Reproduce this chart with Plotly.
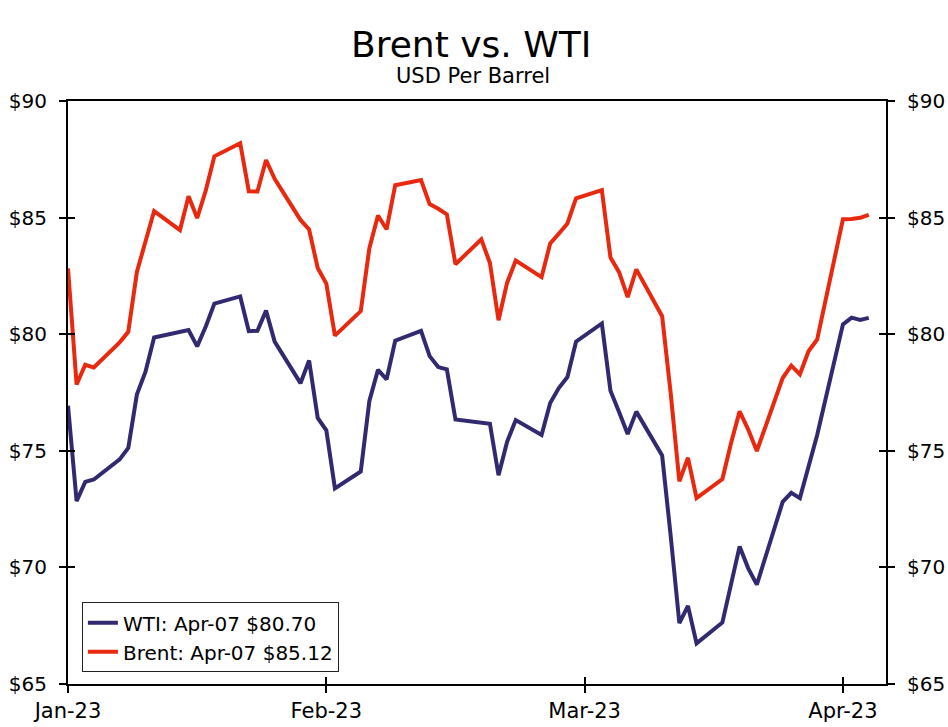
import plotly.graph_objects as go

# ---------------- data ----------------
wti_dates = [
    "2023-01-03", "2023-01-04", "2023-01-05", "2023-01-06", "2023-01-09", "2023-01-10", "2023-01-11",
    "2023-01-12", "2023-01-13", "2023-01-17", "2023-01-18", "2023-01-19", "2023-01-20", "2023-01-23",
    "2023-01-24", "2023-01-25", "2023-01-26", "2023-01-27", "2023-01-30", "2023-01-31",
    "2023-02-01", "2023-02-02", "2023-02-03", "2023-02-06", "2023-02-07", "2023-02-08", "2023-02-09",
    "2023-02-10", "2023-02-13", "2023-02-14", "2023-02-15", "2023-02-16", "2023-02-17", "2023-02-21",
    "2023-02-22", "2023-02-23", "2023-02-24", "2023-02-27", "2023-02-28",
    "2023-03-01", "2023-03-02", "2023-03-03", "2023-03-06", "2023-03-07", "2023-03-08", "2023-03-09",
    "2023-03-10", "2023-03-13", "2023-03-14", "2023-03-15", "2023-03-16", "2023-03-17", "2023-03-20",
    "2023-03-21", "2023-03-22", "2023-03-23", "2023-03-24", "2023-03-27", "2023-03-28", "2023-03-29",
    "2023-03-30", "2023-03-31",
    "2023-04-03", "2023-04-04", "2023-04-05", "2023-04-06",
]
wti_values = [
    76.93, 72.84, 73.67, 73.77, 74.63, 75.12, 77.41, 78.39, 79.86, 80.18, 79.48, 80.33, 81.31, 81.62,
    80.13, 80.15, 81.01, 79.68, 77.90, 78.87,
    76.41, 75.88, 73.39, 74.11, 77.14, 78.47, 78.06, 79.72, 80.14, 79.06, 78.59, 78.49, 76.34, 76.16,
    73.95, 75.39, 76.32, 75.68, 77.05,
    77.69, 78.16, 79.68, 80.46, 77.58, 76.66, 75.72, 76.68, 74.80, 71.33, 67.61, 68.35, 66.74, 67.64,
    69.33, 70.90, 69.96, 69.26, 72.81, 73.20, 72.97, 74.37, 75.67,
    80.42, 80.71, 80.61, 80.70,
]

brent_dates = [
    "2023-01-03", "2023-01-04", "2023-01-05", "2023-01-06", "2023-01-09", "2023-01-10", "2023-01-11",
    "2023-01-12", "2023-01-13", "2023-01-16", "2023-01-17", "2023-01-18", "2023-01-19", "2023-01-20",
    "2023-01-23", "2023-01-24", "2023-01-25", "2023-01-26", "2023-01-27", "2023-01-30", "2023-01-31",
    "2023-02-01", "2023-02-02", "2023-02-03", "2023-02-06", "2023-02-07", "2023-02-08", "2023-02-09",
    "2023-02-10", "2023-02-13", "2023-02-14", "2023-02-15", "2023-02-16", "2023-02-17", "2023-02-20",
    "2023-02-21", "2023-02-22", "2023-02-23", "2023-02-24", "2023-02-27", "2023-02-28",
    "2023-03-01", "2023-03-02", "2023-03-03", "2023-03-06", "2023-03-07", "2023-03-08", "2023-03-09",
    "2023-03-10", "2023-03-13", "2023-03-14", "2023-03-15", "2023-03-16", "2023-03-17", "2023-03-20",
    "2023-03-21", "2023-03-22", "2023-03-23", "2023-03-24", "2023-03-27", "2023-03-28", "2023-03-29",
    "2023-03-30", "2023-03-31",
    "2023-04-03", "2023-04-04", "2023-04-05", "2023-04-06",
]
brent_values = [
    82.82, 77.84, 78.69, 78.57, 79.65, 80.10, 82.67, 84.03, 85.28, 84.46, 85.92, 84.98, 86.16, 87.63,
    88.19, 86.13, 86.12, 87.47, 86.66, 84.90, 84.49,
    82.84, 82.17, 79.94, 80.99, 83.69, 85.09, 84.50, 86.39, 86.61, 85.58, 85.38, 85.14, 83.00, 84.07,
    83.05, 80.60, 82.21, 83.16, 82.45, 83.89,
    84.31, 84.75, 85.83, 86.18, 83.29, 82.66, 81.59, 82.78, 80.77, 77.45, 73.69, 74.70, 72.97, 73.79,
    75.32, 76.69, 75.91, 74.99, 78.12, 78.65, 78.28, 79.27, 79.77,
    84.93, 84.94, 84.99, 85.12,
]

series_names = ["WTI: Apr-07 $80.70", "Brent: Apr-07 $85.12"]
title_text = "Brent vs. WTI"
subtitle_text = "USD Per Barrel"

x_range = ["2023-01-03", "2023-04-08"]
x_tick0 = "2023-01-03"
x_dtick_days = 30
y_range = [65, 90]
y_dtick = 5

# ---------------- style ----------------
FONT = "DejaVu Sans"
WTI_COLOR = "#312a70"
BRENT_COLOR = "#e8290f"
DAY_MS = 86400000

fig = go.Figure()
fig.add_trace(go.Scatter(x=wti_dates, y=wti_values, name=series_names[0], mode="lines",
                         line=dict(color=WTI_COLOR, width=4), xaxis="x", yaxis="y"))
fig.add_trace(go.Scatter(x=brent_dates, y=brent_values, name=series_names[1], mode="lines",
                         line=dict(color=BRENT_COLOR, width=4), xaxis="x2", yaxis="y2"))
# transparent helpers so the inside-tick overlay axes get drawn (same data, invisible)
for ya in ["y3", "y4"]:
    fig.add_trace(go.Scatter(x=wti_dates, y=wti_values, mode="lines", opacity=0,
                             line=dict(color=WTI_COLOR, width=1), showlegend=False,
                             hoverinfo="skip", xaxis="x", yaxis=ya))

common_x = dict(type="date", range=x_range, tick0=x_tick0, dtick=x_dtick_days * DAY_MS,
                ticklen=7, tickwidth=1.5, tickcolor="black", showgrid=False, zeroline=False,
                automargin=False)
common_y = dict(range=y_range, tick0=y_range[0], dtick=y_dtick, ticklen=7, tickwidth=1.5,
                tickcolor="black", showgrid=False, zeroline=False, automargin=False)

fig.update_layout(
    width=948, height=727,
    paper_bgcolor="white", plot_bgcolor="white",
    font=dict(family=FONT, color="black", size=20),
    margin=dict(l=68, r=62, t=101, b=43),
    title=dict(text=title_text, x=0.497, xanchor="center", y=1 - 44 / 727, yanchor="middle",
               font=dict(size=36, family=FONT, color="black")),
    annotations=[dict(text=subtitle_text, xref="paper", yref="paper", x=0.495, y=1 + 25 / 583,
                      xanchor="center", yanchor="middle", showarrow=False,
                      font=dict(size=21, family=FONT, color="black"))],
    showlegend=True,
    legend=dict(x=0.017, y=0.02, xanchor="left", yanchor="bottom", bgcolor="white",
                bordercolor="#222222", borderwidth=1, font=dict(size=20, family=FONT, color="black"),
                tracegroupgap=0, entrywidth=235, entrywidthmode="pixels"),
    xaxis=dict(**common_x, tickformat="%b-%y", ticks="outside", showline=True, linecolor="black",
               linewidth=2, mirror=True, tickfont=dict(size=21, color="black")),
    xaxis2=dict(**common_x, overlaying="x", anchor="y", side="bottom", ticks="inside",
                showticklabels=False, showline=False),
    yaxis=dict(**common_y, tickprefix="$", ticks="outside", showline=True, linecolor="black",
               linewidth=2, side="left", tickfont=dict(size=20, color="black"),
               ticklabelstandoff=8),
    yaxis2=dict(**common_y, tickprefix="$", ticks="outside", showline=True, linecolor="black",
                linewidth=2, side="right", overlaying="y", anchor="x",
                tickfont=dict(size=20, color="black"), ticklabelstandoff=8),
    yaxis3=dict(**common_y, ticks="inside", showticklabels=False, showline=False, side="left",
                overlaying="y", anchor="x"),
    yaxis4=dict(**common_y, ticks="inside", showticklabels=False, showline=False, side="right",
                overlaying="y", anchor="x"),
)

fig.write_html("out.html", config={"displayModeBar": False},
               post_script="document.body.style.margin='0px';")
